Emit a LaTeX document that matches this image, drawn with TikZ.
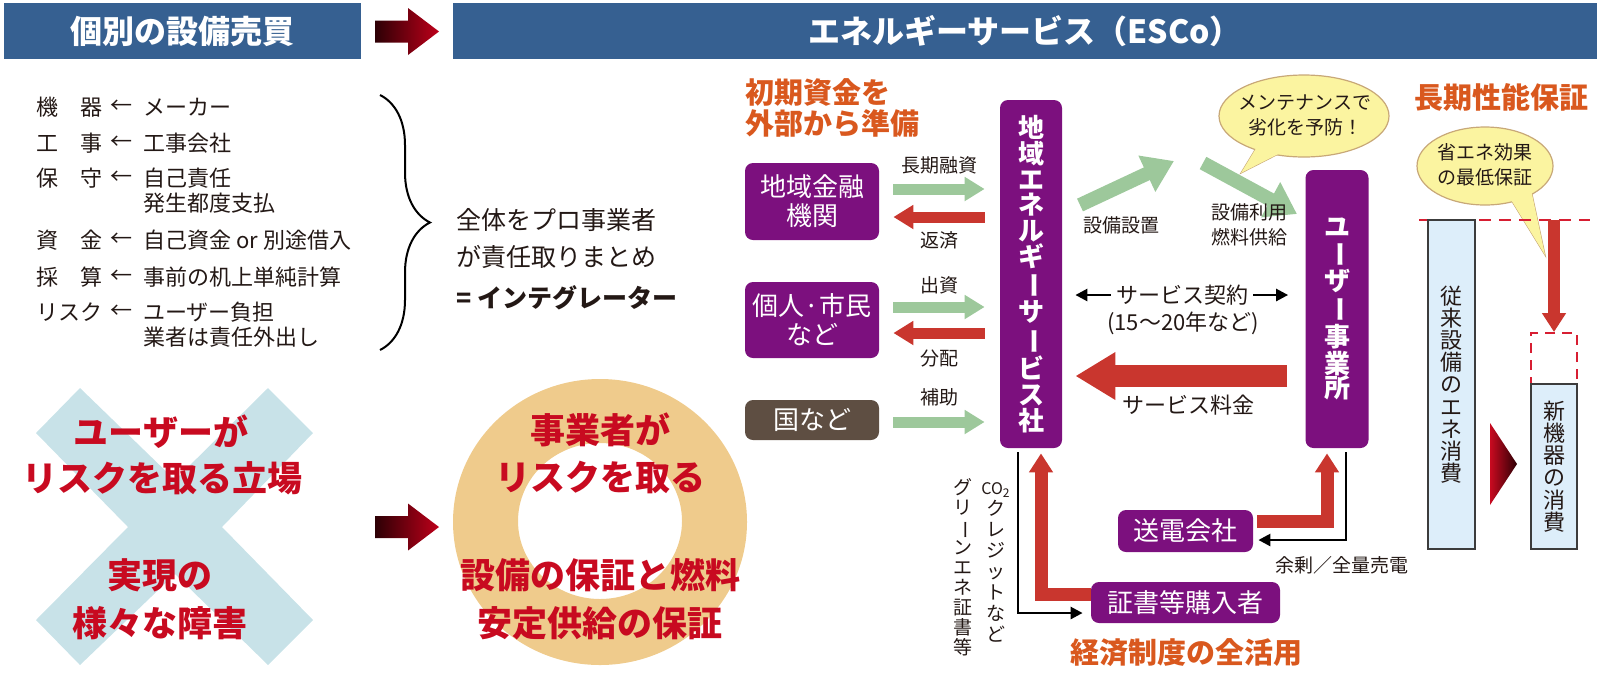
\documentclass[tikz,border=0pt]{standalone}
\usepackage{fontspec}
\setmainfont{Noto Sans CJK JP}
\usetikzlibrary{arrows.meta,calc,decorations.pathreplacing}

\definecolor{hdrblue}{RGB}{54,96,145}
\definecolor{espurple}{RGB}{124,16,126}
\definecolor{esbrown}{RGB}{94,78,66}
\definecolor{esgreen}{RGB}{157,200,155}
\definecolor{esred}{RGB}{201,54,46}
\definecolor{esorange}{RGB}{217,88,30}
\definecolor{txtred}{RGB}{200,10,32}
\definecolor{xblue}{RGB}{200,226,232}
\definecolor{ringtan}{RGB}{239,203,140}
\definecolor{bubble}{RGB}{251,244,160}
\definecolor{bubbleedge}{RGB}{200,168,120}
\definecolor{barblue}{RGB}{221,238,250}
\definecolor{bargrey}{RGB}{60,60,60}
\definecolor{dashred}{RGB}{215,30,50}
\definecolor{arrdark}{RGB}{45,0,5}
\definecolor{arrred}{RGB}{190,0,26}
\definecolor{txtdark}{RGB}{35,24,21}

% long vowel mark for vertical text
\newcommand{\choon}{\rotatebox[origin=c]{-90}{ー}}

\begin{document}
\begin{tikzpicture}[x=0.5pt, y=-0.5pt,
  every node/.style={inner sep=0pt, text=txtdark, font=\fontsize{11}{13}\selectfont},
  hdr/.style={fill=hdrblue, text=white, minimum height=28pt, font=\bfseries\fontsize{16}{18}\selectfont},
  box/.style={fill=espurple, rounded corners=4pt, text=white, align=center, minimum width=67pt, font=\fontsize{13}{14.5}\selectfont},
  lbl/.style={font=\fontsize{9.5}{12.5}\selectfont, align=center},
  bigred/.style={text=txtred, font=\bfseries\fontsize{17.5}{20}\selectfont},
  heading/.style={text=esorange, align=left, font=\bfseries\fontsize{14.5}{15.5}\selectfont},
  bar/.style={draw=bargrey, line width=0.8pt, fill=barblue, align=center, font=\fontsize{11}{11.1}\selectfont},
  bub/.style={fill=bubble, draw=bubbleedge, line width=0.6pt},
  garrow/.style={draw=esgreen, line width=5.5pt, -{Triangle[width=11.5pt,length=10pt]}},
  rarrow/.style={draw=esred, line width=5.5pt, -{Triangle[width=11.5pt,length=10pt]}},
  gdiag/.style={draw=esgreen, line width=7pt, -{Triangle[width=19pt,length=15pt]}},
  rbig/.style={draw=esred, line width=11pt, -{Triangle[width=22.5pt,length=20pt]}},
  rmid/.style={draw=esred, line width=6.5pt, line join=miter, -{Triangle[width=11.5pt,length=9.5pt]}},
  barrow/.style={draw=black, line width=1.3pt, -{Triangle[width=6pt,length=6pt]}}
]
\useasboundingbox (0,0) rectangle (1600,676);

% --- Headers ---
\node[hdr, minimum width=178.5pt] (hdold) at (182.5,31) {個別の設備売買};
\node[hdr, minimum width=572pt] (hdesco) at (1025,31) {エネルギーサービス（ESCo）};
% Gradient arrows (top and middle)
\foreach \ay in {31.5,527} {
  \shade[left color=arrdark, right color=arrred]
    (375,{\ay-11}) -- (408,{\ay-11}) -- (408,{\ay-23.5}) -- (439,\ay)
    -- (408,{\ay+23.5}) -- (408,{\ay+11}) -- (375,{\ay+11}) -- cycle;
}

% --- Left list ---
\foreach \lab/\val/\yy in {機　器/メーカー/107, 工　事/工事会社/143, 保　守/自己責任/178,
    資　金/自己資金 or 別途借入/240, 採　算/事前の机上単純計算/277, リスク/ユーザー負担/312} {
  \node[anchor=west] (lab\yy) at (36,\yy) {\lab};
  \node (arr\yy) at (121,\yy) {←};
  \node[anchor=west] (val\yy) at (143,\yy) {\val};
}
\node[anchor=west] (val203) at (143,203) {発生都度支払};
\node[anchor=west] (val337) at (143,337) {業者は責任外出し};

% Brace
\coordinate (btop) at (380,95);
\coordinate (bbot) at (380,350);
\draw[line width=1pt, decorate, decoration={brace, amplitude=25pt}] (btop) -- (bbot);
\node[anchor=west, font=\fontsize{12.5}{14}\selectfont] (whole1) at (456,220) {全体をプロ事業者};
\node[anchor=west, font=\fontsize{12.5}{14}\selectfont] (whole2) at (456,257) {が責任取りまとめ};
\node[anchor=west, font=\bfseries\fontsize{12.5}{14}\selectfont] (integ) at (456,298) {= インテグレーター};

% --- Cross and ring ---
\fill[xblue] (80,388) -- (175,480) -- (268,388) -- (313,433) -- (222,527) -- (313,620)
  -- (268,665) -- (175,574) -- (80,665) -- (36,620) -- (128,527) -- (36,433) -- cycle;
\node[bigred] (x1) at (161,432) {ユーザーが};
\node[bigred] (x2) at (162,478) {リスクを取る立場};
\node[bigred] (x3) at (160,575) {実現の};
\node[bigred] (x4) at (160,623) {様々な障害};

\fill[ringtan, even odd rule] (600,522) ellipse [x radius=147, y radius=143]
  (600,521) ellipse [x radius=82, y radius=78];
\node[bigred] (o1) at (600,430) {事業者が};
\node[bigred] (o2) at (600,477) {リスクを取る};
\node[bigred] (o3) at (600,575) {設備の保証と燃料};
\node[bigred] (o4) at (600,623) {安定供給の保証};

% --- Funding side ---
\node[heading, anchor=west] (fund) at (745,107.5) {初期資金を\\外部から準備};
\node[box, minimum height=38.5pt] (fin) at (812,201.5) {地域金融\\機関};
\node[box, minimum height=38pt] (cit) at (812,320) {個人·市民\\など};
\node[box, fill=esbrown, minimum height=20pt] (nat) at (812,420) {国など};

\node[box, minimum width=31pt, minimum height=174pt, font=\bfseries\fontsize{13}{12.85}\selectfont]
  (esco) at (1031,274) {地\\域\\エ\\ネ\\ル\\ギ\\\choon\\サ\\\choon\\ビ\\ス\\社};
\node[box, minimum width=31.5pt, minimum height=139pt, font=\bfseries\fontsize{13}{12.3}\selectfont]
  (user) at (1337,309) {ユ\\\choon\\ザ\\\choon\\事\\業\\所};

\draw[garrow] ($(fin.east)+(14,-12.5)$) -- ($(fin.east -| esco.west)+(-15,-12.5)$)
  node[lbl, midway, yshift=12pt] (l1) {長期融資};
\draw[rarrow] ($(fin.east -| esco.west)+(-15,15.5)$) -- ($(fin.east)+(14,15.5)$)
  node[lbl, midway, yshift=-11.5pt] (l2) {返済};
\draw[garrow] ($(cit.east)+(14,-13)$) -- ($(cit.east -| esco.west)+(-15,-13)$)
  node[lbl, midway, yshift=11pt] (l3) {出資};
\draw[rarrow] ($(cit.east -| esco.west)+(-15,13)$) -- ($(cit.east)+(14,13)$)
  node[lbl, midway, yshift=-12.5pt] (l4) {分配};
\draw[garrow] ($(nat.east)+(14,2)$) -- ($(nat.east -| esco.west)+(-15,2)$)
  node[lbl, midway, yshift=12.5pt] (l5) {補助};

% --- Between the company and the user ---
\coordinate (inst1) at (1080,205);
\coordinate (inst2) at (1174,161);
\coordinate (use1) at (1203,163);
\coordinate (use2) at (1297,214);
\draw[gdiag] (inst1) -- (inst2);
\draw[gdiag] (use1) -- (use2);
\node[lbl] (setup) at (1121,225) {設備設置};
\node[lbl] (supply) at (1249,224.5) {設備利用\\燃料供給};

\filldraw[bub] (1258,145) -- (1241,173) -- (1290,148) -- cycle;
\filldraw[bub] (1304,116) ellipse [x radius=85, y radius=41];
\fill[bubble] (1258,145) -- (1241,173) -- (1290,148) -- cycle;
\node[lbl] (maint) at (1305,115.5) {メンテナンスで\\劣化を予防！};

\node[font=\fontsize{11}{13}\selectfont] (contract) at (1182,295) {サービス契約};
\node[font=\fontsize{11}{13}\selectfont] (period) at (1183,323) {(15〜20年など)};
\draw[barrow] ($(contract.west)+(-5,0)$) -- ($(contract.west -| esco.east)+(13,0)$);
\draw[barrow] ($(contract.east)+(5,0)$) -- ($(contract.east -| user.west)+(-17,0)$);

\draw[rbig] ($(user.west)+(-18,67)$) -- ($(user.west -| esco.east)+(13,67)$);
\node[font=\fontsize{11}{13}\selectfont] (fee) at (1188,405) {サービス料金};

% --- Economic schemes ---
\node[box, minimum width=94.5pt, minimum height=20.5pt] (cert) at (1185.5,602.5) {証書等購入者};
\node[box, minimum width=67.5pt, minimum height=21pt] (grid) at (1185.5,531) {送電会社};

\draw[barrow] ($(esco.south)+(-13,4)$) |- ($(cert.west)+(-8,10.5)$);
\draw[rmid] ($(cert.west)+(0,-8.5)$) -| ($(esco.south)+(10,5)$);
\draw[rmid] ($(grid.east)+(4,-10)$) -| ($(user.south)+(-10,5)$);
\draw[barrow] ($(user.south)+(9,4)$) |- ($(grid.east)+(5,9)$);
\node[lbl] (sell) at (1342,565) {余剰／全量売電};

\node[lbl, anchor=north, font=\fontsize{9.5}{10.5}\selectfont] (co2) at (996,482)
  {{\fontsize{8}{8}\selectfont CO\textsubscript{2}}\\ク\\レ\\ジ\\ッ\\ト\\な\\ど};
\node[lbl, anchor=north, font=\fontsize{9.5}{10}\selectfont] (green) at (963,478)
  {グ\\リ\\\choon\\ン\\エ\\ネ\\証\\書\\等};
\node[heading] (econ) at (1186,653) {経済制度の全活用};

% --- Long-term performance ---
\node[heading] (perf) at (1501,97) {長期性能保証};
\filldraw[bub] (1505,190) -- (1545,255) -- (1530,185) -- cycle;
\filldraw[bub] (1485,166) ellipse [x radius=68, y radius=39];
\fill[bubble] (1505,190) -- (1545,255) -- (1530,185) -- cycle;
\node[lbl] (minsave) at (1485,164.5) {省エネ効果\\の最低保証};

\coordinate (dl) at (1419,220);
\coordinate (dr) at (1590,220);
\draw[dashred, line width=1pt, dash pattern=on 6pt off 4pt] (dl) -- (dr);

\node[draw=dashred, line width=1pt, dash pattern=on 5pt off 3.5pt, minimum width=23pt, minimum height=25.5pt]
  (gap) at (1554,358.5) {};
\node[bar, minimum width=23.5pt, minimum height=164.5pt] (oldbar) at (1451.5,384.5)
  {従\\来\\設\\備\\の\\エ\\ネ\\消\\費};
\node[bar, minimum width=23pt, minimum height=82.5pt] (newbar) at (1554,466.5)
  {新\\機\\器\\の\\消\\費};
\coordinate (guar) at (1554,220);
\draw[draw=esred, line width=6pt, -{Triangle[width=11.5pt,length=9.5pt]}] (guar) -- (gap.north);

\shade[left color=txtred, right color=arrdark] (1490,423) -- (1517,464) -- (1490,505) -- cycle;

\end{tikzpicture}
\end{document}
